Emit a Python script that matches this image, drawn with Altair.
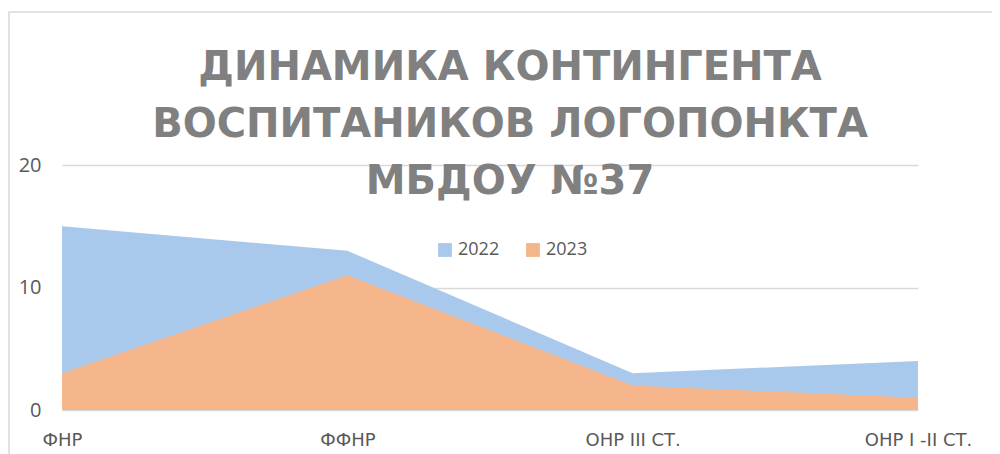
import altair as alt
import pandas as pd

categories = ["ФНР", "ФФНР", "ОНР III СТ.", "ОНР I -II СТ."]
series_2022 = [15, 13, 3, 4]
series_2023 = [3, 11, 2, 1]
years = ["2022", "2023"]
title_lines = ["ДИНАМИКА КОНТИНГЕНТА", "ВОСПИТАНИКОВ ЛОГОПОНКТА", "МБДОУ №37"]

rows = []
for c, v in zip(categories, series_2022):
    rows.append({"cat": c, "year": "2022", "value": v, "order": 0})
for c, v in zip(categories, series_2023):
    rows.append({"cat": c, "year": "2023", "value": v, "order": 1})
df = pd.DataFrame(rows)

# decorative chart-frame border (like the office chart area outline)
frame = alt.Chart(pd.DataFrame({"f": [0]})).mark_rect(
    fill=None, stroke="#d9d9d9", strokeWidth=1.5, clip=False
).encode(
    x=alt.value(-53), x2=alt.value(1000), y=alt.value(-153), y2=alt.value(400)
)

areas = alt.Chart(df).mark_area(opacity=1, interpolate="linear").encode(
    x=alt.X("cat:N", sort=categories, scale=alt.Scale(type="point", padding=0),
            axis=alt.Axis(title=None, labelAngle=0, labelFontSize=18, labelColor="#595959",
                          labelPadding=21, ticks=False, domain=False, grid=False,
                          labelFont="DejaVu Sans")),
    y=alt.Y("value:Q", stack=None, scale=alt.Scale(domain=[0, 20]),
            axis=alt.Axis(title=None, values=[0, 10, 20], labelFontSize=20, labelColor="#595959",
                          labelPadding=21, ticks=False, domain=False, gridColor="#d9d9d9",
                          gridWidth=1.5, labelFont="Open Sans")),
    color=alt.Color("year:N", scale=alt.Scale(domain=years, range=["#a9c9ec", "#f5b58a"]),
                    legend=alt.Legend(title=None, orient="none", direction="horizontal",
                                      legendX=374, legendY=76, symbolType="square",
                                      symbolSize=190, labelFontSize=18, labelColor="#595959",
                                      labelFont="Open Sans", columnPadding=24, symbolOpacity=1)),
    order=alt.Order("order:Q"),
)

chart = alt.layer(frame, areas).properties(
    width=856,
    height=245,
    autosize=alt.AutoSizeParams(type="none"),
    padding={"left": 54, "top": 157, "right": 74, "bottom": 44},
    title=alt.TitleParams(text=title_lines, fontSize=40, font="DejaVu Sans", fontWeight="bold",
                          color="#808080", lineHeight=57, anchor="middle", frame="group",
                          dx=20, offset=-191),
).configure_view(stroke=None)

chart.save("out.html", embed_options={"renderer": "svg", "actions": False})
